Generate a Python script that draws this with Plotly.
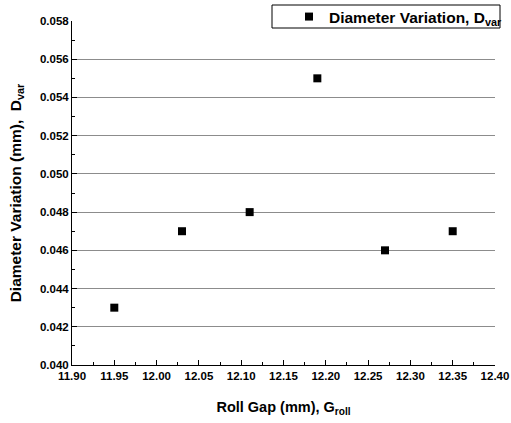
import plotly.graph_objects as go

roll_gap = [11.95, 12.03, 12.11, 12.19, 12.27, 12.35]
diameter_var = [0.043, 0.047, 0.048, 0.055, 0.046, 0.047]
grid_vals = [0.042, 0.044, 0.046, 0.048, 0.050, 0.052, 0.054, 0.056]

FONT = "Liberation Sans, Arial, sans-serif"

W, H = 511, 423
PL, PR, PT, PB = 72, 495, 21, 365
ML, MR, MT, MB = PL, 6, 0, H - PB
PW = W - ML - MR
PH = H - MT - MB
x_dom = [0, (PR - ML) / PW]
y_dom = [0, (PB - PT) / PH]


def px_x(v):
    return (v - ML) / PW


def px_y(v):
    return (PB - v) / PH


fig = go.Figure()
fig.add_trace(go.Scatter(
    x=roll_gap, y=diameter_var, mode="markers",
    marker=dict(symbol="square", size=8, color="black"),
    name="<b>Diameter Variation, D<sub>var</sub></b>",
))

fig.update_layout(
    width=W, height=H,
    margin=dict(l=ML, r=MR, t=MT, b=MB, autoexpand=False),
    paper_bgcolor="white", plot_bgcolor="white",
    font=dict(family=FONT, color="black"),
    showlegend=True,
    hovermode=False,
    legend=dict(
        x=px_x(289), xanchor="left", y=1.0, yanchor="top",
        borderwidth=0, bgcolor="rgba(0,0,0,0)",
        font=dict(family=FONT, size=15.5, color="black"),
        itemwidth=30, tracegroupgap=0,
    ),
    shapes=[dict(
        type="rect", xref="paper", yref="paper",
        x0=px_x(272), x1=px_x(500), y0=px_y(28), y1=px_y(5),
        line=dict(color="black", width=1), fillcolor="white", layer="above",
    )],
    xaxis=dict(
        domain=x_dom, automargin=False,
        range=[11.90, 12.40], dtick=0.05, tick0=11.90, tickformat=".2f",
        showline=True, linecolor="black", linewidth=1,
        ticks="inside", ticklen=5, tickcolor="black",
        minor=dict(ticks="inside", ticklen=3, dtick=0.025, tickcolor="black"),
        showgrid=False, zeroline=False,
        tickfont=dict(family=FONT, size=11.5, color="black", weight="bold"),
        title=dict(text="<b>Roll Gap (mm), G<sub>roll</sub></b>",
                   font=dict(family=FONT, size=14.5, color="black"), standoff=21),
    ),
    yaxis=dict(
        domain=y_dom, automargin=False,
        range=[0.040, 0.058], dtick=0.002, tick0=0.040, tickformat=".3f",
        showline=True, linecolor="black", linewidth=1,
        ticks="inside", ticklen=5, tickcolor="black",
        minor=dict(ticks="inside", ticklen=3, dtick=0.001, tickcolor="black"),
        showgrid=False, zeroline=False,
        tickfont=dict(family=FONT, size=11.5, color="black", weight="bold"),
        title=dict(text="<b>Diameter Variation (mm),  D<sub>var</sub></b>",
                   font=dict(family=FONT, size=15.5, color="black"), standoff=14),
    ),
    yaxis2=dict(
        domain=y_dom, automargin=False,
        overlaying="y", matches="y", tickvals=grid_vals,
        showgrid=True, gridcolor="#8c8c8c", gridwidth=1,
        showticklabels=False, ticks="", showline=False, zeroline=False,
    ),
)

fig.add_trace(go.Scatter(x=[None], y=[None], yaxis="y2", showlegend=False, hoverinfo="skip"))

fig.write_html("out.html", config={"displayModeBar": False},
               post_script="document.body.style.margin='0';")
